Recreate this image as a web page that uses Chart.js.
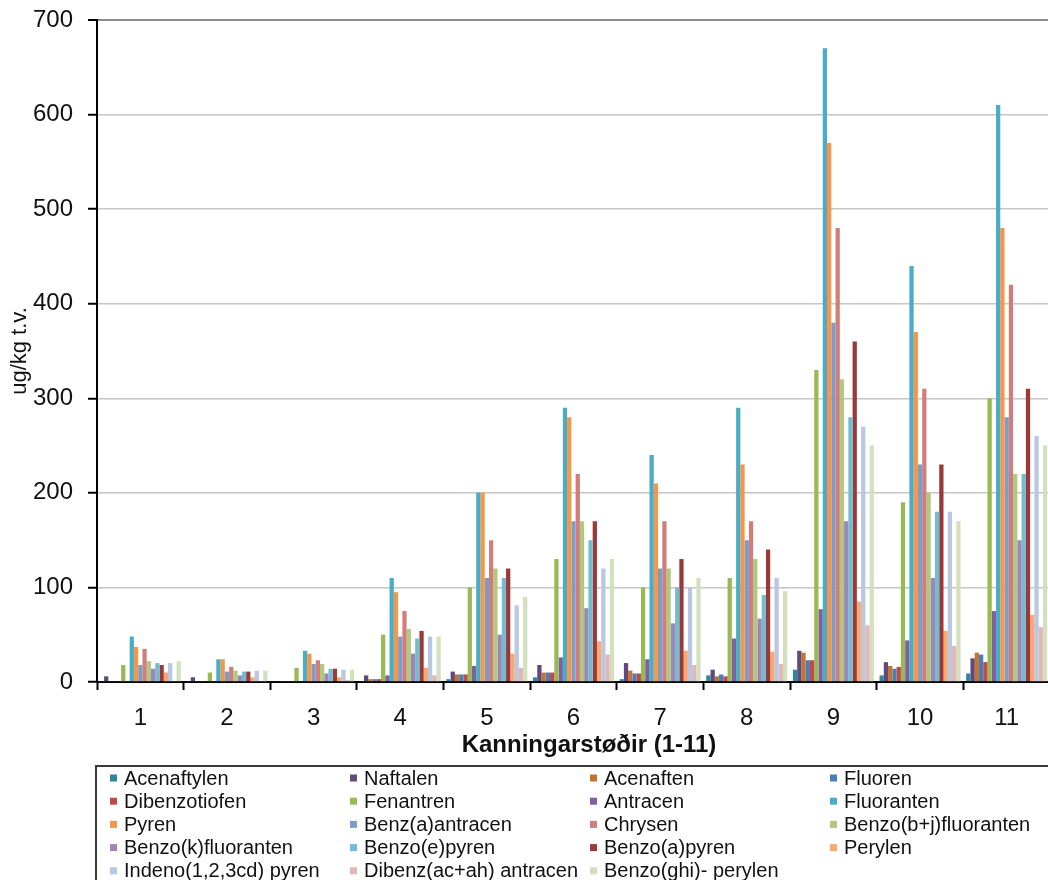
<!DOCTYPE html>
<html>
<head>
<meta charset="utf-8">
<script src="https://cdn.jsdelivr.net/npm/chart.js@4.4.1/dist/chart.umd.min.js"></script>
<style>
  html, body { margin: 0; padding: 0; background: #fff; overflow: hidden; }
  #wrap { width: 1048px; height: 880px; overflow: hidden; position: relative; }
  canvas { display: block; }
</style>
</head>
<body>
<div id="wrap"><canvas id="c" width="1060" height="880"></canvas></div>
<script>
// Sampling stations 1-11
const categories = ['1', '2', '3', '4', '5', '6', '7', '8', '9', '10', '11'];

// PAH compounds, ug/kg t.v.
const seriesNames = [
  'Acenaftylen', 'Naftalen', 'Acenaften', 'Fluoren',
  'Dibenzotiofen', 'Fenantren', 'Antracen', 'Fluoranten',
  'Pyren', 'Benz(a)antracen', 'Chrysen', 'Benzo(b+j)fluoranten',
  'Benzo(k)fluoranten', 'Benzo(e)pyren', 'Benzo(a)pyren', 'Perylen',
  'Indeno(1,2,3cd) pyren', 'Dibenz(ac+ah) antracen', 'Benzo(ghi)- perylen'
];

const acenaftylen   = [1, 1, 1, 1, 3, 5, 3, 7, 13, 7, 9];
const naftalen      = [6, 5, 1, 7, 11, 18, 20, 13, 33, 21, 25];
const acenaften     = [1, 1, 1, 3, 8, 10, 12, 6, 31, 17, 31];
const fluoren       = [1, 1, 1, 3, 8, 10, 9, 8, 23, 14, 29];
const dibenzotiofen = [1, 1, 1, 3, 8, 10, 9, 6, 23, 16, 21];
const fenantren     = [18, 10, 15, 50, 100, 130, 100, 110, 330, 190, 300];
const antracen      = [1, 1, 1, 7, 17, 26, 24, 46, 77, 44, 75];
const fluoranten    = [48, 24, 33, 110, 200, 290, 240, 290, 670, 440, 610];
const pyren         = [37, 24, 30, 95, 200, 280, 210, 230, 570, 370, 480];
const benzAAntracen = [18, 11, 19, 48, 110, 170, 120, 150, 380, 230, 280];
const chrysen       = [35, 16, 23, 75, 150, 220, 170, 170, 480, 310, 420];
const benzoBJFluor  = [22, 12, 19, 56, 120, 170, 120, 130, 320, 200, 220];
const benzoKFluor   = [14, 7, 9, 30, 50, 78, 62, 67, 170, 110, 150];
const benzoEPyren   = [20, 11, 14, 46, 110, 150, 100, 92, 280, 180, 220];
const benzoAPyren   = [18, 11, 14, 54, 120, 170, 130, 140, 360, 230, 310];
const perylen       = [10, 5, 5, 15, 30, 43, 33, 32, 85, 54, 71];
const indenoPyren   = [20, 12, 13, 48, 81, 120, 100, 110, 270, 180, 260];
const dibenzAntr    = [1, 1, 2, 7, 15, 29, 18, 19, 60, 38, 58];
const benzoGhiPeryl = [22, 12, 13, 48, 90, 130, 110, 96, 250, 170, 250];

const seriesValues = [
  acenaftylen, naftalen, acenaften, fluoren,
  dibenzotiofen, fenantren, antracen, fluoranten,
  pyren, benzAAntracen, chrysen, benzoBJFluor,
  benzoKFluor, benzoEPyren, benzoAPyren, perylen,
  indenoPyren, dibenzAntr, benzoGhiPeryl
];

const seriesColors = [
  '#31859C', '#604A7B', '#C5742E', '#4A7EBB',
  '#BE4B48', '#98B954', '#7D60A0', '#4BACC6',
  '#F79646', '#7F9CC9', '#CF7E7C', '#B0C97D',
  '#9C87B8', '#72BDD2', '#993A38', '#F9A870',
  '#B8C7E2', '#E2B7B6', '#D2E0BD'
];

const yTicks = [0, 100, 200, 300, 400, 500, 600, 700];
const yTitle = 'ug/kg t.v.';
const xTitle = 'Kanningarstøðir (1-11)';

const FONT = '"Liberation Sans", Arial, sans-serif';

const datasets = seriesNames.map((name, i) => ({
  label: name,
  data: seriesValues[i],
  backgroundColor: seriesColors[i],
  borderWidth: 0,
  categoryPercentage: 0.935,
  barPercentage: 1.0
}));

// Axis title under the station numbers
const xTitlePlugin = {
  id: 'xTitle',
  afterDraw(chart) {
    const ctx = chart.ctx;
    ctx.save();
    ctx.font = 'bold 24px ' + FONT;
    ctx.fillStyle = '#111';
    ctx.textAlign = 'center';
    ctx.textBaseline = 'middle';
    ctx.fillText(xTitle, 589, 745);
    ctx.restore();
  }
};

// Boxed four-column legend below the plot
const gridLegendPlugin = {
  id: 'gridLegend',
  afterDraw(chart) {
    const ctx = chart.ctx;
    ctx.save();
    ctx.strokeStyle = '#3a3a3a';
    ctx.lineWidth = 2;
    ctx.strokeRect(96, 766, 1000, 200);
    ctx.font = '20px ' + FONT;
    ctx.textBaseline = 'middle';
    ctx.textAlign = 'left';
    chart.data.datasets.forEach((ds, i) => {
      const col = i % 4;
      const row = Math.floor(i / 4);
      const x = 110 + col * 240;
      const y = 778 + row * 23.2;
      ctx.fillStyle = ds.backgroundColor;
      ctx.fillRect(x, y - 3.5, 7, 7);
      ctx.fillStyle = '#111';
      ctx.fillText(ds.label, x + 14, y + 1);
    });
    ctx.restore();
  }
};

new Chart(document.getElementById('c'), {
  type: 'bar',
  data: { labels: categories, datasets },
  options: {
    responsive: false,
    animation: false,
    devicePixelRatio: 1,
    layout: { padding: { left: 0, right: 10, top: 20, bottom: 120 } },
    plugins: {
      legend: { display: false },
      tooltip: { enabled: false }
    },
    scales: {
      x: {
        afterFit(scale) {
          scale.height = 78;
          scale.paddingLeft = 0;
          scale.paddingRight = 0;
        },
        grid: {
          offset: true,
          drawOnChartArea: false,
          drawTicks: true,
          tickLength: 8,
          tickColor: '#000',
          tickWidth: 2
        },
        border: { color: '#000', width: 2 },
        ticks: {
          color: '#111',
          padding: 14,
          font: { family: FONT, size: 24 }
        }
      },
      y: {
        min: 0,
        max: 700,
        afterFit(scale) {
          scale.width = 97;
          scale.paddingTop = 0;
          scale.paddingBottom = 0;
        },
        afterBuildTicks(scale) { scale.ticks = yTicks.map(v => ({ value: v })); },
        grid: {
          color: (c) => (c.tick && c.tick.value === 700) ? '#8a8a8a' : '#c6c6c6',
          lineWidth: (c) => (c.tick && c.tick.value === 700) ? 2 : 1.5,
          drawTicks: true,
          tickLength: 9,
          tickColor: '#000',
          tickWidth: 2
        },
        border: { color: '#000', width: 2 },
        ticks: {
          color: '#111',
          padding: 15,
          font: { family: FONT, size: 24 }
        },
        title: {
          display: true,
          text: yTitle,
          color: '#111',
          padding: { top: 7, bottom: 0 },
          font: { family: FONT, size: 22 }
        }
      }
    }
  },
  plugins: [xTitlePlugin, gridLegendPlugin]
});
</script>
</body>
</html>
